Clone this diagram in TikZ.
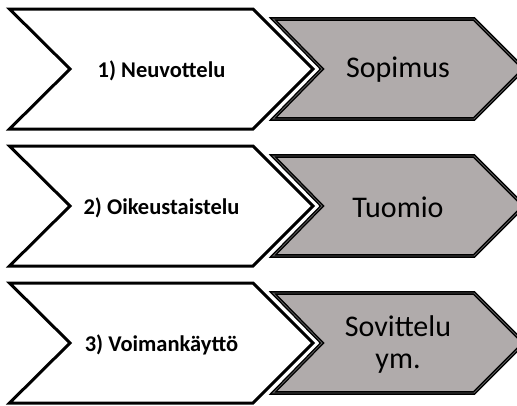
\documentclass[tikz,border=0pt]{standalone}
\usepackage{fontspec}
\setmainfont{Carlito}
\definecolor{chevgray}{RGB}{176,171,171}
\definecolor{rimgray}{RGB}{90,90,90}
\tikzset{
  x=1pt, y=-1pt,
  stage/.style={draw=black, line width=3pt, fill=white, line join=miter},
  result/.style={draw=black, line width=1.4pt, double=rimgray, double distance=0.8pt, fill=chevgray, line join=miter},
  stagetext/.style={font=\fontsize{22.5}{26}\selectfont\bfseries, align=center},
  resulttext/.style={font=\fontsize{30}{32}\selectfont, align=center},
}
\begin{document}
\begin{tikzpicture}
\useasboundingbox (0,0) rectangle (517,405);
% chevron rows: centre line y, white stage chevron and grey result chevron
\foreach \cy/\lab/\res [count=\i] in {69/{1) Neuvottelu}/{Sopimus}, 206/{2) Oikeustaistelu}/{Tuomio}, 343/{3) Voimankäyttö}/{Sovittelu\\ym.}} {
  \draw[result] (273,\cy-50) -- (474,\cy-50) -- (524,\cy) -- (474,\cy+50) -- (273,\cy+50) -- (322,\cy) -- cycle;
  \draw[stage] (9.5,\cy-60) -- (253,\cy-60) -- (313,\cy) -- (253,\cy+60) -- (9.5,\cy+60) -- (70,\cy) -- cycle;
  \node[stagetext] (s\i) at (161.5,\cy+1.5) {\lab};
  \node[resulttext] (r\i) at (398,\cy+1) {\res};
}
\end{tikzpicture}
\end{document}
